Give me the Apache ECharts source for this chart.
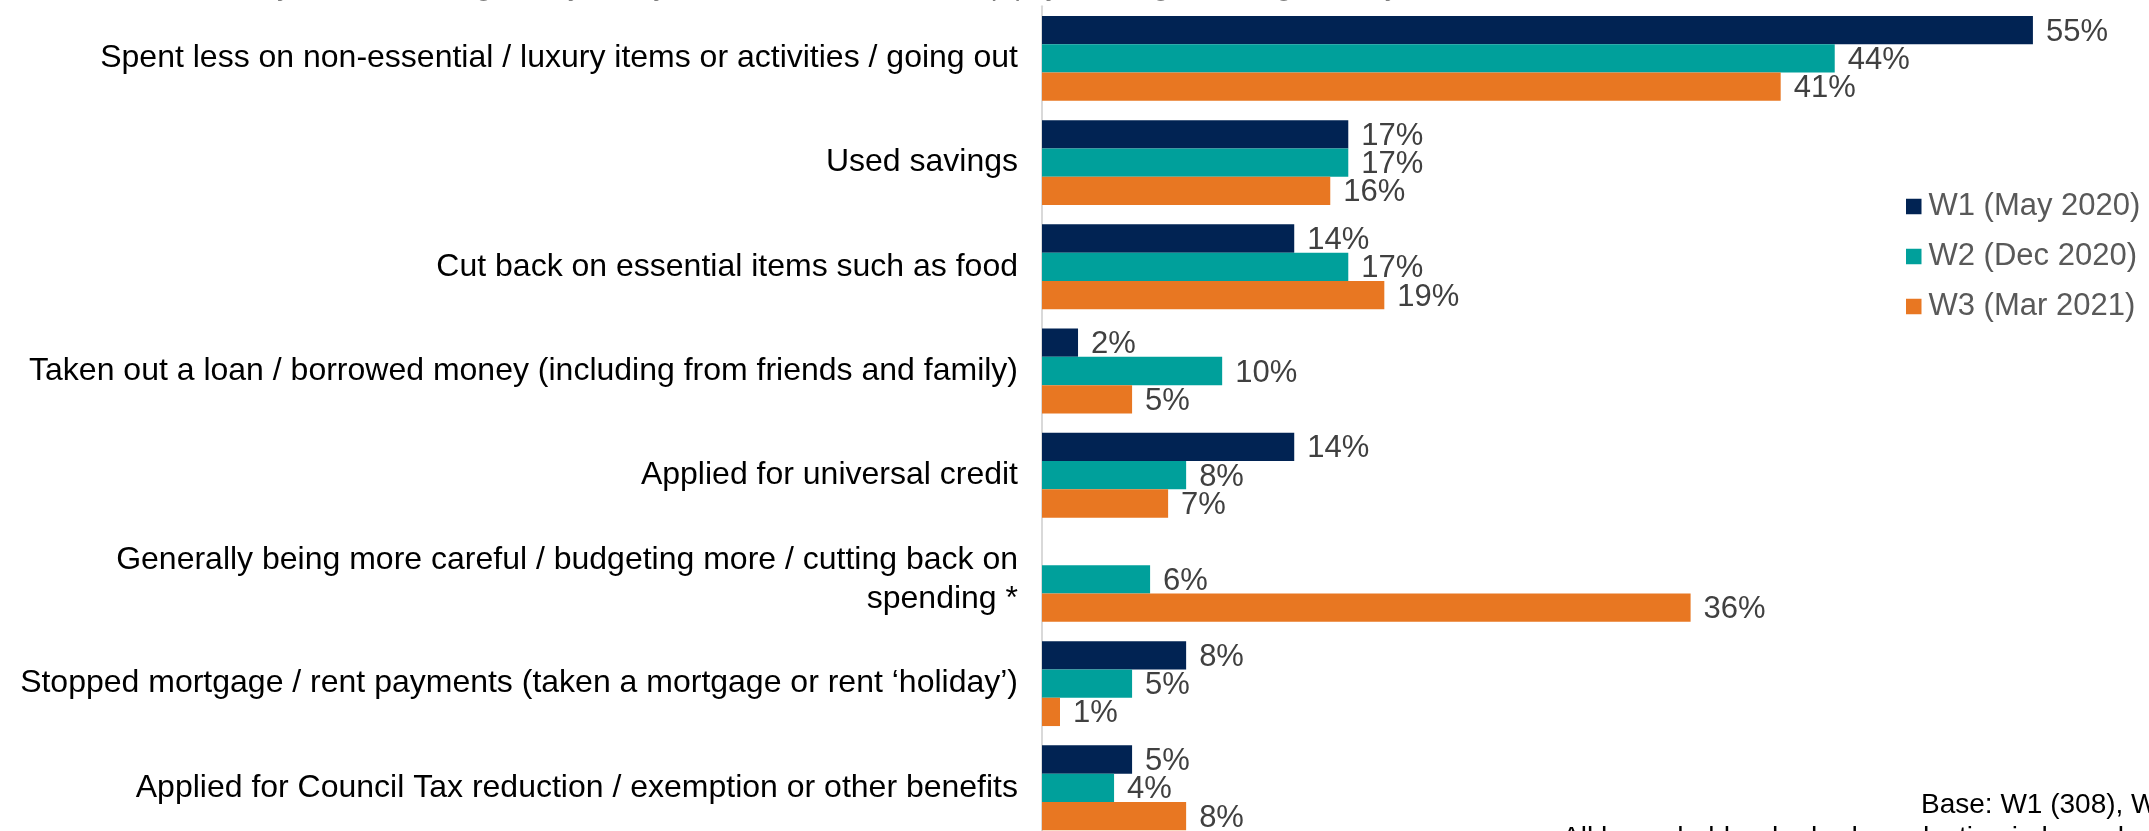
<!DOCTYPE html>
<html>
<head>
<meta charset="utf-8">
<title>Financial actions taken</title>
<script src="https://cdn.jsdelivr.net/npm/echarts@6/dist/echarts.min.js"></script>
<style>
  html, body { margin: 0; padding: 0; background: #ffffff; width: 2149px; height: 831px; overflow: hidden; }
  /* the plot runs past the bottom edge of the page, so the canvas is taller than the window */
  #chart { width: 2149px; height: 860px; }
</style>
</head>
<body>
<div id="chart"></div>
<script>
// Actions taken, top to bottom
const categories = [
  'Spent less on non-essential / luxury items or activities / going out',
  'Used savings',
  'Cut back on essential items such as food',
  'Taken out a loan / borrowed money (including from friends and family)',
  'Applied for universal credit',
  'Generally being more careful / budgeting more / cutting back on\nspending *',
  'Stopped mortgage / rent payments (taken a mortgage or rent \u2018holiday\u2019)',
  'Applied for Council Tax reduction / exemption or other benefits'
];

const waveNames = ['W1 (May 2020)', 'W2 (Dec 2020)', 'W3 (Mar 2021)'];

// Percentages per wave (null = not asked in that wave)
const w1Values = [55, 17, 14, 2, 14, null, 8, 5];
const w2Values = [44, 17, 17, 10, 8, 6, 5, 4];
const w3Values = [41, 16, 19, 5, 7, 36, 1, 8];

const waveColors = ['#012353', '#00A09B', '#E87722'];

const questionText = 'Q. Which, if any, of the following have you or your household done to help pay for things / manage money?';
const baseText = 'Base: W1 (308), W2 (291), W3 (287)';
const baseText2 = 'All households who had a reduction in household income in the period';

const FONT = '"Liberation Sans", Arial, sans-serif';

const chart = echarts.init(document.getElementById('chart'), null, { renderer: 'canvas' });

// two-line labels sit a little lower than the band centre
const categoryData = categories.map(function (name) {
  return name.indexOf('\n') >= 0
    ? { value: name, textStyle: { padding: [8, 0, 0, 0] } }
    : name;
});

function barSeries(name, data, color) {
  return {
    name: name,
    type: 'bar',
    data: data,
    barGap: 0,
    barCategoryGap: '18.5%',
    itemStyle: { color: color },
    label: {
      show: true,
      position: 'right',
      distance: 13,
      offset: [0, 2],
      formatter: '{c}%',
      fontFamily: FONT,
      fontSize: 31,
      color: '#404040'
    }
  };
}

chart.setOption({
  backgroundColor: '#ffffff',
  animation: false,
  textStyle: { fontFamily: FONT },
  grid: {
    left: 1042,
    top: 6.3,
    width: 1081,
    height: 833.6,
    containLabel: false
  },
  legend: {
    orient: 'vertical',
    left: 1901,
    top: 186,
    padding: 5,
    itemWidth: 15.5,
    itemHeight: 15.5,
    itemGap: 19,
    icon: 'rect',
    data: waveNames,
    textStyle: {
      fontFamily: FONT,
      fontSize: 31,
      lineHeight: 31,
      color: '#595959',
      padding: [0, 0, 0, 2]
    }
  },
  xAxis: {
    type: 'value',
    min: 0,
    max: 60,
    show: false
  },
  yAxis: {
    type: 'category',
    inverse: true,
    data: categoryData,
    axisLine: { show: true, lineStyle: { color: '#D9D9D9', width: 2 } },
    axisTick: { show: false },
    axisLabel: {
      fontFamily: FONT,
      fontSize: 32,
      lineHeight: 39,
      color: '#000000',
      margin: 24,
      align: 'right'
    }
  },
  series: [
    barSeries(waveNames[0], w1Values, waveColors[0]),
    barSeries(waveNames[1], w2Values, waveColors[1]),
    barSeries(waveNames[2], w3Values, waveColors[2])
  ],
  graphic: [
    {
      type: 'text',
      left: 96,
      top: -27,
      style: {
        text: questionText,
        font: 'italic 28px ' + FONT,
        fill: '#7F7F7F'
      }
    },
    {
      type: 'text',
      left: 1921,
      top: 791,
      style: {
        text: baseText,
        font: '28px ' + FONT,
        fill: '#000000'
      }
    },
    {
      type: 'text',
      left: 1562,
      top: 824,
      style: {
        text: baseText2,
        font: '28px ' + FONT,
        fill: '#000000'
      }
    }
  ]
});
</script>
</body>
</html>
